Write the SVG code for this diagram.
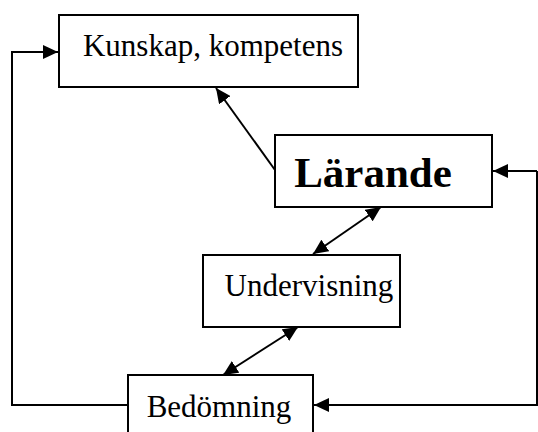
<svg xmlns="http://www.w3.org/2000/svg" width="538" height="432" viewBox="0 0 538 432">
<style>
.box{fill:#fff;stroke:#000;stroke-width:2}
.t{font-family:"Liberation Serif","Times New Roman",serif;font-size:31px;fill:#000;text-anchor:middle}
.b{font-weight:bold;font-size:43px}
.c{fill:none;stroke:#000;stroke-width:2}
</style>
<defs>
<marker id="ah" markerUnits="userSpaceOnUse" markerWidth="16" markerHeight="14" refX="15" refY="7" orient="auto-start-reverse">
<path d="M0,0 L15,7 L0,14 z" fill="#000"/>
</marker>
</defs>
<g id="connectors">
<path class="c" d="M128,405 H12 V52 H58" marker-end="url(#ah)"/>
<path class="c" d="M537,171 H493" marker-end="url(#ah)"/>
<path class="c" d="M537,171 V405 H314" marker-end="url(#ah)"/>
<path class="c" d="M275,170 L216,88" marker-end="url(#ah)"/>
<path class="c" d="M313,254 L381,207" marker-start="url(#ah)" marker-end="url(#ah)"/>
<path class="c" d="M223,375 L298,327" marker-start="url(#ah)" marker-end="url(#ah)"/>
</g>
<g id="kunskap">
<rect class="box" x="59" y="15" width="299" height="72"/>
<text class="t" x="213" y="56">Kunskap, kompetens</text>
</g>
<g id="larande">
<rect class="box" x="275" y="135" width="217" height="72"/>
<text class="t b" x="373" y="187">Lärande</text>
</g>
<g id="undervisning">
<rect class="box" x="203" y="255" width="197" height="72"/>
<text class="t" x="309" y="296">Undervisning</text>
</g>
<g id="bedomning">
<rect class="box" x="128" y="375" width="185" height="72"/>
<text class="t" x="219" y="417">Bedömning</text>
</g>
</svg>
